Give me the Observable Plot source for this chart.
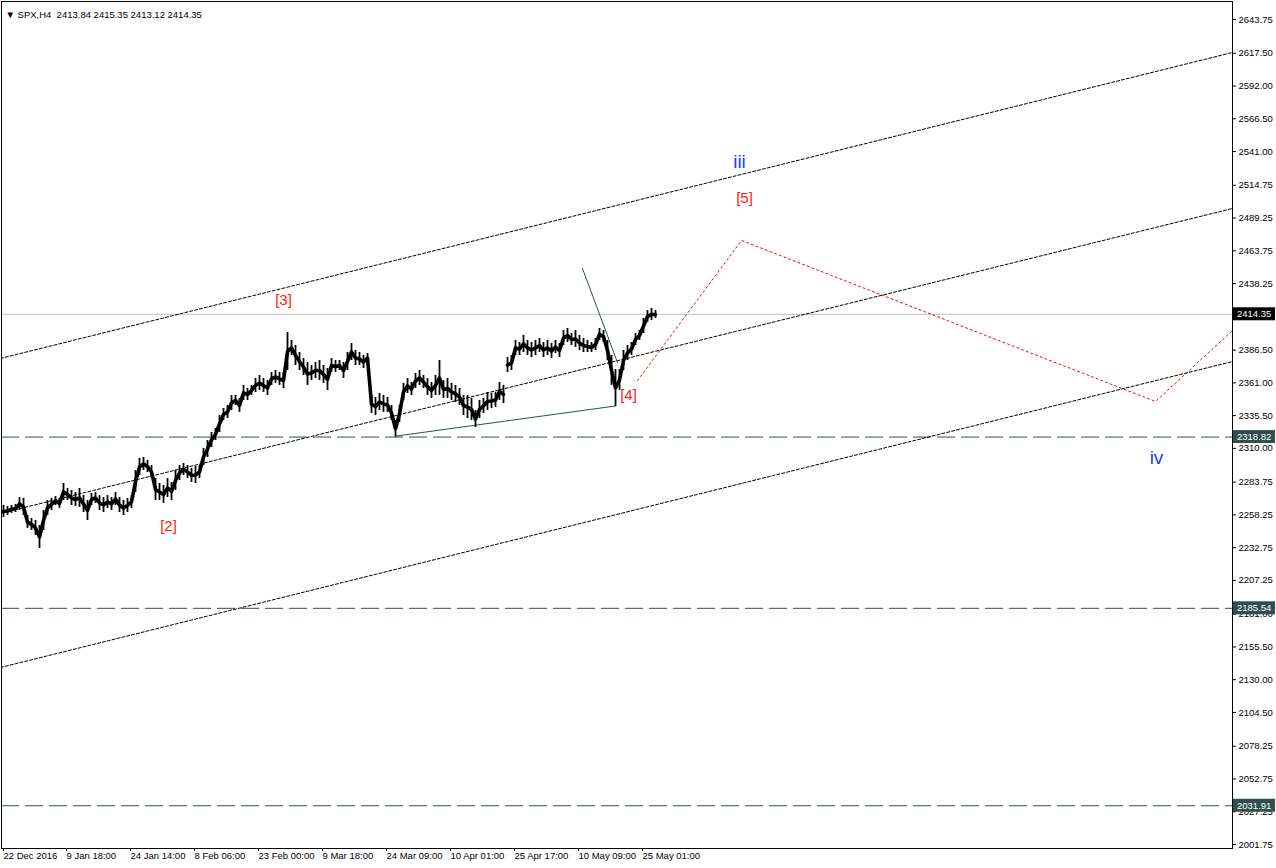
<!DOCTYPE html>
<html><head><meta charset="utf-8">
<script src="https://cdn.jsdelivr.net/npm/d3@7"></script>
<script src="https://cdn.jsdelivr.net/npm/@observablehq/plot@0.6"></script>
<style>
html,body{margin:0;padding:0;background:#fff;}
#chart{width:1276px;height:868px;overflow:hidden;}
</style></head><body>
<div id="chart"></div>
<script>
// ---- price data: H4 bars, sampled every 4 bars (bar index = 4*k) ----
const barHigh = [2265.6,2264.8,2265.6,2266.4,2271.8,2271.1,2257.8,2255.5,2253.9,2250.0,2261.7,2269.5,2271.1,2272.5,2271.1,2282.7,2278.8,2277.2,2275.6,2278.8,2273.3,2269.5,2274.9,2275.6,2273.3,2271.8,2273.3,2271.8,2275.6,2271.8,2269.5,2271.1,2273.3,2292.8,2302.2,2302.9,2300.6,2296.7,2286.6,2282.7,2281.1,2286.6,2283.5,2292.8,2296.7,2298.3,2296.7,2294.4,2295.9,2296.7,2309.9,2316.1,2322.4,2325.5,2335.6,2341.0,2343.4,2351.2,2351.2,2348.9,2359.0,2356.6,2359.0,2364.4,2366.7,2364.4,2362.8,2369.1,2370.6,2369.1,2369.1,2400.2,2394.0,2390.1,2384.6,2379.9,2376.8,2374.5,2376.8,2378.4,2374.5,2372.2,2379.9,2378.4,2378.4,2376.8,2384.6,2391.6,2386.2,2384.6,2382.3,2383.8,2351.2,2349.6,2352.7,2351.2,2349.6,2343.4,2331.7,2343.4,2360.6,2364.4,2361.3,2368.3,2370.6,2366.7,2364.4,2361.3,2366.7,2378.4,2362.8,2364.4,2360.6,2359.0,2356.6,2351.2,2351.2,2348.9,2339.5,2347.3,2348.9,2353.5,2352.7,2353.5,2361.3,2359.0,2380.7,2382.3,2394.0,2392.4,2397.9,2394.0,2392.4,2394.0,2395.5,2392.4,2394.0,2391.6,2394.0,2391.6,2401.7,2403.3,2399.4,2401.7,2397.9,2395.5,2394.0,2392.4,2395.5,2403.3,2401.7,2394.0,2382.3,2371.4,2371.4,2386.2,2390.1,2392.4,2399.4,2401.7,2411.1,2417.3,2418.9,2417.3];
const barLow = [2256.3,2257.8,2259.4,2260.1,2261.7,2257.8,2247.7,2246.1,2242.2,2232.1,2246.1,2257.8,2261.7,2265.6,2263.3,2269.5,2269.5,2265.6,2264.8,2264.1,2260.1,2253.9,2265.6,2267.2,2261.7,2260.1,2263.3,2261.7,2265.6,2260.1,2257.8,2260.1,2263.3,2275.6,2288.9,2292.8,2291.2,2286.6,2269.5,2269.5,2267.2,2271.8,2269.5,2277.2,2285.0,2288.9,2286.6,2283.5,2282.7,2286.6,2296.7,2302.9,2310.7,2316.1,2322.4,2331.7,2333.3,2339.5,2343.4,2338.0,2347.3,2347.3,2351.2,2353.5,2355.1,2353.5,2351.2,2359.0,2360.6,2359.0,2356.6,2370.6,2382.3,2374.5,2370.6,2366.7,2359.0,2362.8,2364.4,2362.8,2360.6,2355.1,2369.1,2369.1,2370.6,2364.4,2370.6,2378.4,2374.5,2374.5,2372.2,2376.8,2337.2,2335.6,2339.5,2338.0,2338.0,2331.7,2318.8,2330.2,2347.3,2352.7,2351.2,2356.6,2359.0,2356.6,2351.2,2348.9,2351.2,2351.2,2348.9,2348.9,2347.3,2345.7,2343.4,2335.6,2333.3,2331.7,2326.3,2333.3,2337.2,2339.5,2341.0,2341.8,2347.3,2344.9,2369.1,2370.6,2382.3,2382.3,2384.6,2382.3,2380.7,2382.3,2384.6,2380.7,2382.3,2379.9,2383.8,2380.7,2390.1,2392.4,2390.1,2388.5,2386.2,2384.6,2384.6,2384.6,2386.2,2394.0,2392.4,2378.4,2359.0,2342.6,2355.1,2370.6,2378.4,2382.3,2390.1,2394.0,2399.4,2408.0,2409.5,2411.1];
const barStep = 4;
const gapAfterSample = 125; // price gap (late April) between two runs of bars

// ---- axis ticks ----
const yTicks = [2643.75,2617.50,2592.00,2566.50,2541.00,2514.75,2489.25,2463.75,2438.25,2386.50,2361.00,2335.50,2310.00,2283.75,2258.25,2232.75,2207.25,2181.00,2155.50,2130.00,2104.50,2078.25,2052.75,2027.25,2001.75];
const xTickBars = [0,63,127,191,255,319,383,447,511,575,639];
const xTickLabels = ["22 Dec 2016","9 Jan 18:00","24 Jan 14:00","8 Feb 06:00","23 Feb 00:00","9 Mar 18:00","24 Mar 09:00","10 Apr 01:00","25 Apr 17:00","10 May 09:00","25 May 01:00"];

// ---- levels & analysis objects ----
const lastPrice = 2414.35;
const hLevels = [2318.82, 2185.54, 2031.91];
const channelUpper = [{bar:-3, price:2380.0},{bar:1229, price:2618.1}];
const channelMid   = [{bar:-3, price:2259.4},{bar:1229, price:2496.7}];
const channelLower = [{bar:-3, price:2139.5},{bar:1229, price:2377.6}];
const supportLine  = [{bar:392, price:2319.5},{bar:612, price:2343.0}];
const downLine     = [{bar:579, price:2450.0},{bar:614, price:2376.8}];
const projection   = [{bar:634, price:2362.8},{bar:738, price:2471.8},{bar:1152, price:2346.5},{bar:1229, price:2401.7}];
const waveLabels = [
  {bar:280, price:2425.1, text:"[3]", color:"#ff1a1a", size:15},
  {bar:165, price:2249.2, text:"[2]", color:"#ff1a1a", size:15},
  {bar:625, price:2351.2, text:"[4]", color:"#ff1a1a", size:15},
  {bar:741, price:2504.5, text:"[5]", color:"#ff1a1a", size:15},
  {bar:736, price:2533.3, text:"iii", color:"#1a3cff", size:19},
  {bar:1153, price:2302.9, text:"iv", color:"#1a3cff", size:19}
];
const header = "\u25BC SPX,H4  2413.84 2415.35 2413.12 2414.35";

const bars = barHigh.map((h,i)=>({bar:i*barStep, high:h, low:barLow[i], mid:(h+barLow[i])/2, run: i>gapAfterSample ? 1 : 0}));
const FONT = "'Liberation Sans', Arial, sans-serif";

const chart = Plot.plot({
  width:1276, height:868,
  marginLeft:1, marginRight:44, marginTop:1, marginBottom:20,
  style:{fontFamily:FONT, background:"#fff", overflow:"visible"},
  x:{domain:[-2,1229], axis:null},
  y:{domain:[1998.64,2657.76], axis:null},
  marks:[
    Plot.ruleY(hLevels, {stroke:"#2f4f4f", strokeWidth:1, strokeDasharray:"18,6"}),
    Plot.ruleY([lastPrice], {stroke:"#c0c0c0", strokeWidth:1}),
    Plot.line(channelUpper, {x:"bar", y:"price", stroke:"#000", strokeWidth:1, strokeDasharray:"3,2", clip:true}),
    Plot.line(channelMid, {x:"bar", y:"price", stroke:"#000", strokeWidth:1, strokeDasharray:"3,2", clip:true}),
    Plot.line(channelLower, {x:"bar", y:"price", stroke:"#000", strokeWidth:1, strokeDasharray:"3,2", clip:true}),
    Plot.line(supportLine, {x:"bar", y:"price", stroke:"#2f4f4f", strokeWidth:1}),
    Plot.line(downLine, {x:"bar", y:"price", stroke:"#2f4f4f", strokeWidth:1}),
    Plot.line(projection, {x:"bar", y:"price", stroke:"#ff0000", strokeWidth:1, strokeDasharray:"2,3", clip:true}),
    Plot.lineY(bars, {x:"bar", y:"mid", z:"run", stroke:"#000", strokeWidth:3.6}),
    Plot.ruleX(bars, {x:"bar", y1:"low", y2:"high", stroke:"#000", strokeWidth:1.8}),
    Plot.text(waveLabels, {x:"bar", y:"price", text:"text", fill:"color", fontSize:"size"}),
    Plot.text([header], {frameAnchor:"top-left", dx:4, dy:10, fontSize:9.5, fill:"#000", textAnchor:"start"}),
    Plot.axisY({anchor:"right", ticks:yTicks, tickFormat:d=>d.toFixed(2), tickSize:3, tickPadding:3, fontSize:9.5, label:null}),
    Plot.axisX({ticks:xTickBars, tickFormat:()=>"", tickSize:3, label:null}),
    Plot.text(xTickBars, {x:d=>d, text:(d,i)=>xTickLabels[i], frameAnchor:"bottom", dy:10, dx:0, textAnchor:"start", fontSize:9.5, fill:"#000"}),
    Plot.frame({stroke:"#000", strokeWidth:1})
  ]
});
document.getElementById("chart").appendChild(chart);

// price tags on the right axis, placed with the chart's own y scale
const yS = chart.scale("y");
const svg = d3.select(chart);
const tags = [{price:lastPrice, bg:"#000"}].concat(hLevels.map(p=>({price:p, bg:"#2f4f4f"})));
for (const t of tags) {
  const yy = yS.apply(t.price);
  const g = svg.append("g");
  g.append("rect").attr("x",1233).attr("y",yy-6.5).attr("width",42).attr("height",13).attr("fill",t.bg);
  g.append("text").attr("x",1237).attr("y",yy).attr("dy","0.35em").attr("fill","#fff")
   .attr("text-anchor","start").attr("font-size",9.5).attr("font-family",FONT).text(t.price.toFixed(2));
}
</script>
</body></html>
